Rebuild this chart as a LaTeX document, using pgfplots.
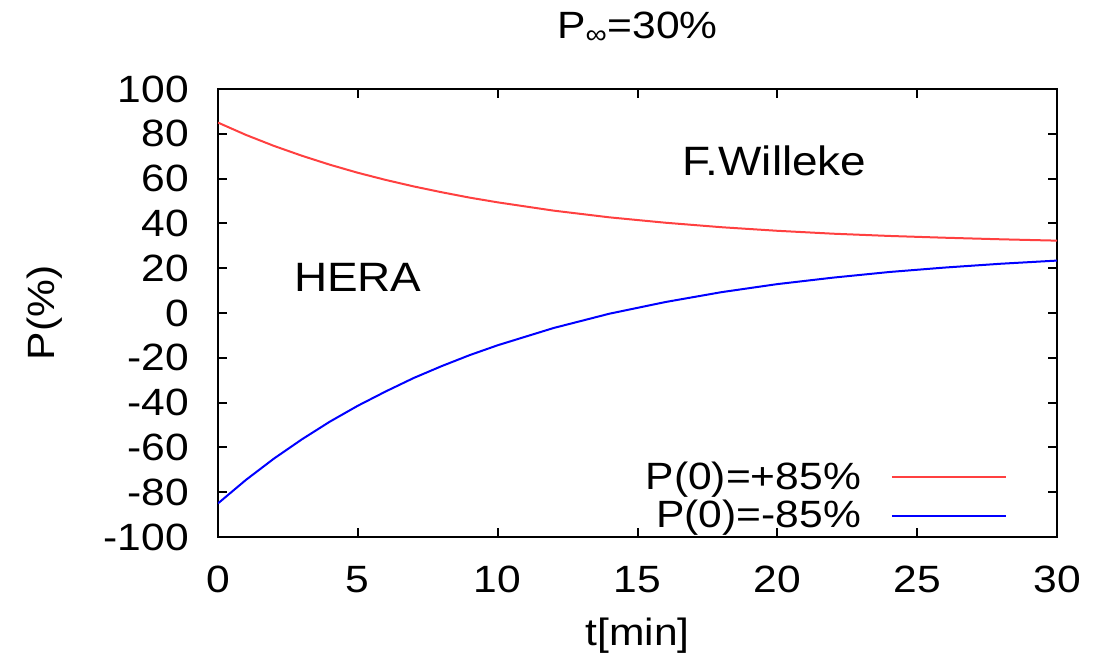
\documentclass[border=0pt]{standalone}
\usepackage{fontspec}
\setmainfont[FakeStretch=1.12]{Liberation Sans}
\usepackage{pgfplots}
\pgfplotsset{compat=1.18}
\begin{document}
\begin{tikzpicture}
\useasboundingbox (-109pt,-58pt) rectangle (441.5pt,268.5pt);
\begin{axis}[
  at={(0,0)}, anchor=south west,
  scale only axis, width=419.5pt, height=224pt,
  xmin=0, xmax=30, ymin=-100, ymax=100,
  xtick={0,5,...,30}, ytick={-100,-80,...,100},
  tick align=inside, major tick length=4.5pt,
  axis line style={line width=1pt}, tick style={line width=1pt, black},
  /pgf/number format/assume math mode=true,
  every tick label/.append style={font=\fontsize{19}{22}\selectfont, text=black},
  yticklabel style={xshift=-11pt},
  xticklabel style={yshift=-11pt},
  title={P\textsubscript{∞}=30\%},
  title style={font=\fontsize{19}{22}\selectfont, yshift=13pt},
  xlabel={t[min]}, ylabel={P(\%)},
  label style={font=\fontsize{19}{22}\selectfont},
  xlabel style={yshift=-5.5pt},
  ylabel style={yshift=14pt},
  legend cell align=right, legend plot pos=right,
  legend style={at={(0.948,-0.005)}, anchor=south east, draw=none, fill=none,
    font=\fontsize{19}{21}\selectfont, row sep=0pt},
  legend image code/.code={\path (0pt,0pt); \draw[#1] (13pt,0pt) -- (70pt,0pt);},
]
\addplot[red!75, line width=1pt] coordinates {
(0,85) (1,79.5) (2,74.6) (3,70.2) (4,66.2) (5,62.6) (6,59.4) (7,56.5) (8,53.9) (9,51.5) (10,49.4)
(12,45.7) (14,42.7) (16,40.3) (18,38.3) (20,36.7) (22,35.4) (24,34.4) (26,33.6) (28,32.9) (30,32.3)};
\addlegendentry{P(0)=+85\%}
\addplot[blue, line width=1pt] coordinates {
(0,-85) (1,-74.5) (2,-65) (3,-56.4) (4,-48.5) (5,-41.4) (6,-35) (7,-29) (8,-23.7) (9,-18.8) (10,-14.4)
(12,-6.7) (14,-0.3) (16,4.9) (18,9.3) (20,12.9) (22,15.8) (24,18.3) (26,20.3) (28,22) (30,23.4)};
\addlegendentry{P(0)=-85\%}
\node[font=\fontsize{20.5}{24}\selectfont] at (axis cs:19.9,68) {F.Willeke};
\node[font=\fontsize{20.5}{24}\selectfont] at (axis cs:5,16) {HERA};
\end{axis}
\end{tikzpicture}
\end{document}
